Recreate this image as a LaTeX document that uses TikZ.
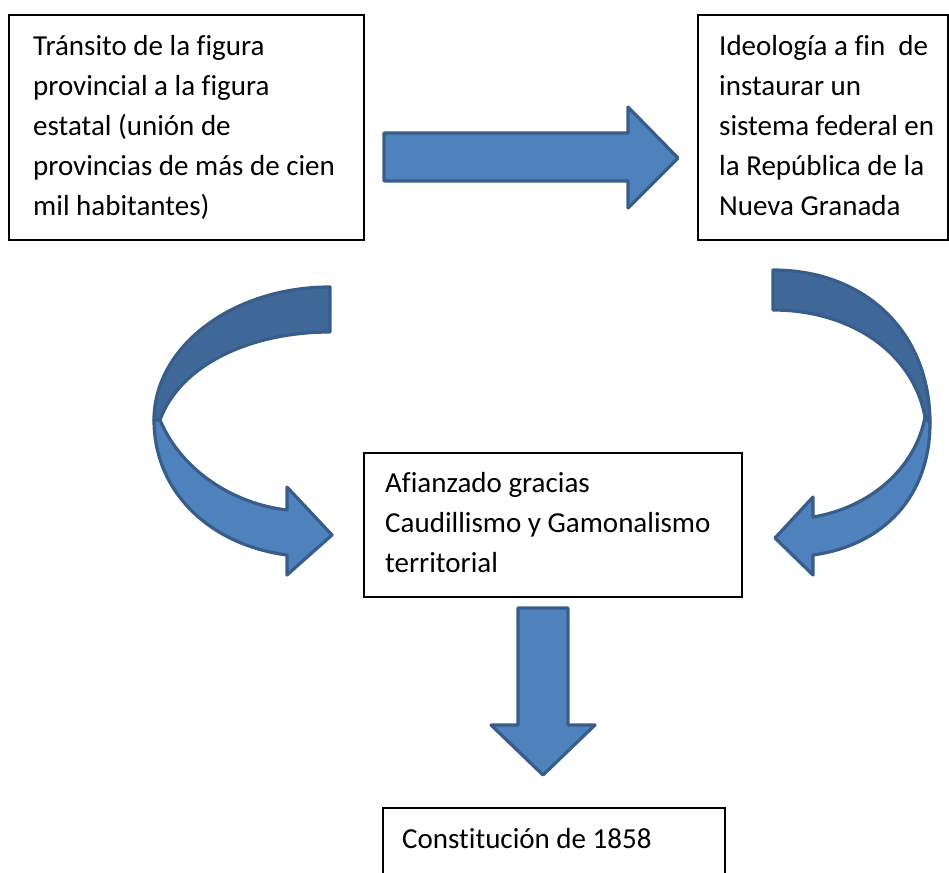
\documentclass[tikz,border=0pt]{standalone}
\usepackage{fontspec}
\setmainfont{Carlito}[Ligatures={NoCommon}]
\definecolor{arrfill}{HTML}{4F81BD}
\definecolor{arrback}{HTML}{3F6898}
\definecolor{arrline}{HTML}{385D8A}
\begin{document}
\begin{tikzpicture}[x=1pt,y=-1pt,
  box/.style={draw=black,line width=1.8pt,fill=white},
  txt/.style={anchor=north west,inner sep=0pt,align=left,
    font=\fontsize{29}{40}\selectfont},
  blockarrow/.style={fill=arrfill,draw=arrline,line width=3.2pt,line join=round},
  backband/.style={fill=arrback,draw=arrline,line width=3.2pt,line join=round}]
\useasboundingbox (0,0) rectangle (949,872);
% boxes
\draw[box] (9,15) rectangle (364,240);
\node[txt] (t1) at (33,27) {\strut Tránsito de la figura\\provincial a la figura\\estatal (unión de\\provincias de más de cien\\mil habitantes)};
\draw[box] (698,15) rectangle (948,240);
\node[txt] (t2) at (719,27) {\strut Ideología a fin\ \ de\\instaurar un\\sistema federal en\\la República de la\\Nueva Granada};
\draw[box] (364,453) rectangle (742,597);
\node[txt] (t3) at (385,464) {\strut Afianzado gracias\\Caudillismo y Gamonalismo\\territorial};
\draw[box] (383,808) rectangle (725,900);
\node[txt] (t4) at (402,820) {\strut Constitución de 1858};
% straight right arrow
\draw[blockarrow] (384,133) -- (628,133) -- (628,107) -- (678,158) -- (628,208) -- (628,181) -- (384,181) -- cycle;
% down arrow
\draw[blockarrow] (518,608) -- (568,608) -- (568,725) -- (595,725) -- (543,775) -- (491,725) -- (518,725) -- cycle;
% left curved arrow
\draw[backband] (330,287) .. controls (232,287) and (154,347) .. (154,420)
  -- (160,420) .. controls (180,365) and (250,332) .. (330,332) -- cycle;
\draw[blockarrow] (154,420) .. controls (154,492) and (210,545) .. (287,555)
  -- (287,575) -- (332,535) -- (287,487) -- (287,510)
  .. controls (235,504) and (182,472) .. (160,420) -- cycle;
% right curved arrow
\draw[backband] (773,270) .. controls (865,270) and (930,332) .. (930,423)
  -- (925,417) .. controls (913,352) and (850,310) .. (773,310) -- cycle;
\draw[blockarrow] (930,423) .. controls (930,495) and (885,545) .. (813,555)
  -- (813,575) -- (775,538) -- (813,497) -- (813,517)
  .. controls (868,508) and (915,470) .. (925,417) -- cycle;
\end{tikzpicture}
\end{document}
